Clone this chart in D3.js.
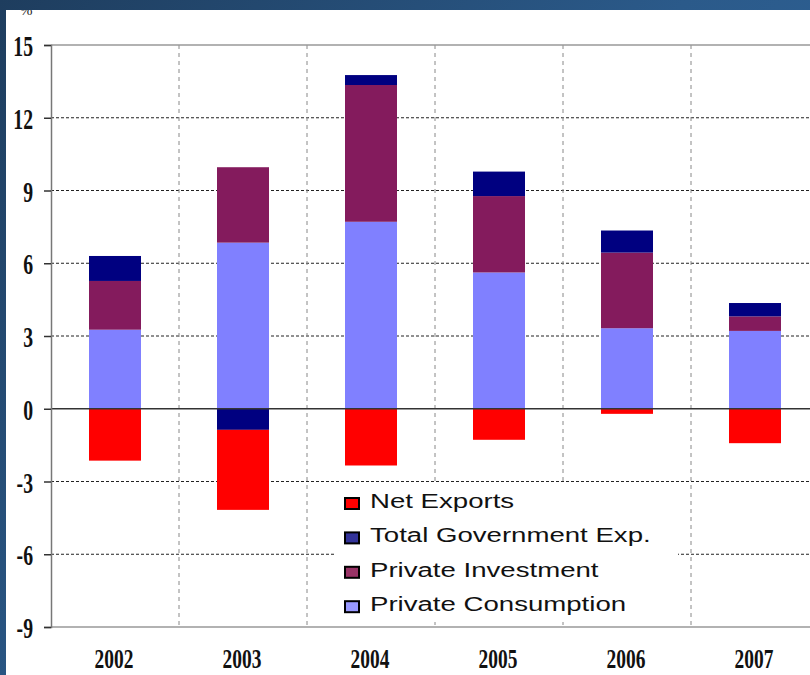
<html>
<head>
<script src="https://d3js.org/d3.v7.min.js"></script>
<style>
body { margin: 0; background: white; }
text { font-family: "Liberation Serif", "Times New Roman", serif; }
</style>
</head>
<body onload="init()">
<svg width="810" height="675"></svg>
<script>
// chart data (% contribution to growth)
var years = ["2002", "2003", "2004", "2005", "2006", "2007"];
var privConsumption = [3.26, 6.85, 7.71, 5.62, 3.32, 3.21];
var privInvestment = [2.01, 3.11, 5.64, 3.15, 3.12, 0.60];
var govExp = [1.03, -0.87, 0.41, 1.01, 0.91, 0.55];
var netExports = [-2.14, -3.30, -2.34, -1.28, -0.21, -1.42];
var yTicks = [15, 12, 9, 6, 3, 0, -3, -6, -9];
var legendNames = ["Net Exports", "Total Government Exp.", "Private Investment", "Private Consumption"];

function init() {
  var svg = d3.select("svg");

  var rows = years.map(function (yr, i) {
    return { year: yr, cons: privConsumption[i], inv: privInvestment[i], gov: govExp[i], nx: netExports[i] };
  });
  var keys = ["cons", "inv", "gov", "nx"];
  var barColor = { cons: "#8080ff", inv: "#841b5d", gov: "#000080", nx: "#ff0000" };
  var legendColor = ["#ff0000", "#333399", "#993366", "#9999ff"];

  var x = d3.scaleBand().domain(years).range([51, 819]).padding(0);
  var y = d3.scaleLinear().domain([-9, 15]).range([627, 45]);
  var barW = 52;

  svg.append("rect").attr("width", 810).attr("height", 675).attr("fill", "white");

  // horizontal dashed grid
  svg.append("g").selectAll("line")
    .data(yTicks.filter(function (d) { return d != 15 && d != 0 && d != -9; }))
    .enter().append("line")
      .attr("x1", 51).attr("x2", 810)
      .attr("y1", function (d) { return y(d); })
      .attr("y2", function (d) { return y(d); })
      .attr("stroke", "#222").attr("stroke-width", 1)
      .attr("stroke-dasharray", "3,2");

  // vertical dashed separators between years
  svg.append("g").selectAll("line")
    .data(years.slice(1))
    .enter().append("line")
      .attr("x1", function (d) { return x(d); })
      .attr("x2", function (d) { return x(d); })
      .attr("y1", y(15)).attr("y2", y(-9))
      .attr("stroke", "#888").attr("stroke-width", 1)
      .attr("stroke-dasharray", "4,4");

  // top and bottom frame lines
  svg.append("line").attr("x1", 51).attr("x2", 810).attr("y1", y(15)).attr("y2", y(15))
    .attr("stroke", "#999").attr("stroke-width", 1.5);
  svg.append("line").attr("x1", 51).attr("x2", 810).attr("y1", y(-9)).attr("y2", y(-9))
    .attr("stroke", "#999").attr("stroke-width", 1.5);

  // legend box covers the grid
  var lg = svg.append("g");
  lg.append("rect").attr("x", 334).attr("y", 485).attr("width", 344).attr("height", 137).attr("fill", "white");
  legendNames.forEach(function (name, i) {
    var by = 508 + i * 34.4;
    lg.append("rect")
      .attr("x", 345).attr("y", by - 10).attr("width", 14).attr("height", 11)
      .attr("fill", legendColor[i]).attr("stroke", "black").attr("stroke-width", 2);
    lg.append("text")
      .attr("transform", "translate(370," + by + ") scale(1.38,1)")
      .style("font-family", "'Liberation Sans', Arial, sans-serif")
      .style("font-size", "20px")
      .attr("fill", "#111")
      .text(name);
  });

  // stacked bars
  var series = d3.stack().keys(keys).offset(d3.stackOffsetDiverging)(rows);
  svg.append("g").selectAll("g")
    .data(series)
    .enter().append("g")
      .attr("fill", function (d) { return barColor[d.key]; })
    .selectAll("rect")
    .data(function (d) { return d; })
    .enter().append("rect")
      .attr("x", function (d) { return x(d.data.year) + (x.bandwidth() - barW) / 2; })
      .attr("width", barW)
      .attr("y", function (d) { return y(Math.max(d[0], d[1])); })
      .attr("height", function (d) { return Math.abs(y(d[0]) - y(d[1])); });

  // zero line
  svg.append("line").attr("x1", 51).attr("x2", 810).attr("y1", y(0)).attr("y2", y(0))
    .attr("stroke", "#333").attr("stroke-width", 1.5);

  // y axis
  var yAxis = svg.append("g").attr("transform", "translate(51,0)")
    .call(d3.axisLeft(y).tickValues(yTicks).tickSize(7).tickFormat(d3.format("d")));
  yAxis.select(".domain").attr("stroke", "#777").attr("stroke-width", 1.5);
  yAxis.selectAll(".tick line").attr("stroke", "#333").attr("stroke-width", 1.5);
  yAxis.selectAll(".tick text").remove();
  svg.append("g").selectAll("text")
    .data(yTicks)
    .enter().append("text")
      .attr("transform", function (d) { return "translate(33," + (y(d) + 11) + ") scale(0.68,1)"; })
      .attr("text-anchor", "end")
      .style("font-size", "29px").style("font-weight", "bold")
      .attr("fill", "#111")
      .text(function (d) { return d; });

  // year labels
  svg.append("g").selectAll("text")
    .data(years)
    .enter().append("text")
      .attr("transform", function (d) { return "translate(" + (x(d) + x.bandwidth() / 2 - 1) + ",668) scale(0.72,1)"; })
      .attr("text-anchor", "middle")
      .style("font-size", "27px").style("font-weight", "bold")
      .attr("fill", "#111")
      .text(function (d) { return d; });

  // cut off unit label under the slide frame
  svg.append("text").attr("x", 20).attr("y", 15).style("font-size", "15px").attr("fill", "#222").text("%");

  // slide frame (dark blue band top and left)
  var grad = svg.append("defs").append("linearGradient")
    .attr("id", "frame").attr("gradientUnits", "userSpaceOnUse")
    .attr("x1", 0).attr("y1", 0).attr("x2", 810).attr("y2", 675);
  grad.append("stop").attr("offset", "0%").attr("stop-color", "#1e3d5e");
  grad.append("stop").attr("offset", "50%").attr("stop-color", "#2b5a8a");
  grad.append("stop").attr("offset", "100%").attr("stop-color", "#3168a0");
  svg.append("rect").attr("x", 0).attr("y", 0).attr("width", 810).attr("height", 10).attr("fill", "url(#frame)");
  svg.append("rect").attr("x", 0).attr("y", 0).attr("width", 6).attr("height", 675).attr("fill", "url(#frame)");
}
</script>
</body>
</html>
